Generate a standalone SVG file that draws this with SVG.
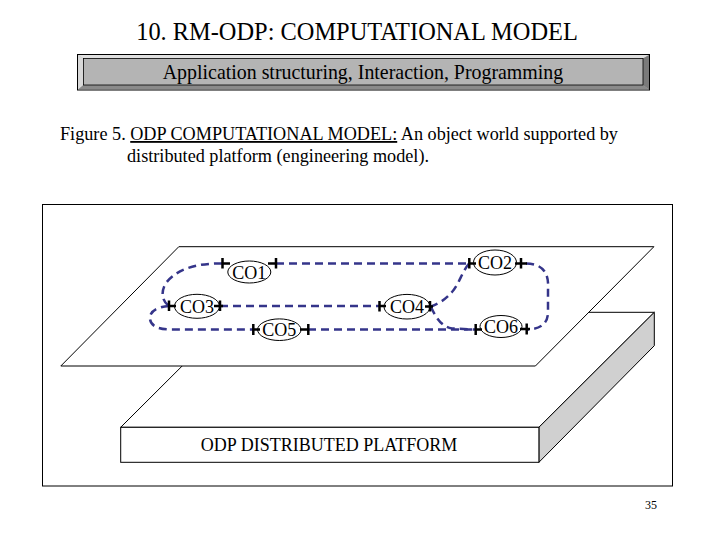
<svg xmlns="http://www.w3.org/2000/svg" width="720" height="540" viewBox="0 0 720 540">
<style>
.t{font-family:"Liberation Serif","Times New Roman",serif;fill:#000}
.ln{fill:none;stroke:#000;stroke-width:1}
.con{fill:none;stroke:#35358a;stroke-width:2.5;stroke-dasharray:8 5}
.node ellipse{fill:#fff;stroke:#000;stroke-width:1}
.node text{font-family:"Liberation Serif","Times New Roman",serif;font-size:18px;text-anchor:middle}
.tick{fill:none;stroke:#000;stroke-width:2.5}
</style>
<rect width="720" height="540" fill="#fff"/>
<g id="title">
<text class="t" x="357" y="40" font-size="24.4" text-anchor="middle">10. RM-ODP: COMPUTATIONAL MODEL</text>
</g>
<g id="banner">
<rect x="77.5" y="54.5" width="572" height="35.5" fill="#b4b4b4" stroke="#000" stroke-width="1"/>
<polygon points="78,55 649,55 643,58.5 83.5,58.5" fill="#e0e0e0"/>
<polygon points="78,55 83.5,58.5 83.5,85 78,89.5" fill="#d8d8d8"/>
<polygon points="649,55 649,89.5 643,85 643,58.5" fill="#7a7a7a"/>
<polygon points="78,89.5 83.5,85 643,85 649,89.5" fill="#8a8a8a"/>
<rect x="83.5" y="58.5" width="559.5" height="26.5" fill="#b4b4b4" stroke="#000" stroke-width="0.8"/>
<text class="t" x="363" y="79" font-size="19.9" text-anchor="middle">Application structuring, Interaction, Programming</text>
</g>
<g id="caption">
<text class="t" x="60" y="140" font-size="18.2">Figure 5. <tspan text-decoration="underline">ODP COMPUTATIONAL MODEL:</tspan> An object world supported by</text>
<text class="t" x="127" y="162" font-size="18.2">distributed platform (engineering model).</text>
</g>
<g id="frame">
<rect x="42.5" y="204.5" width="630" height="281.5" class="ln"/>
</g>
<g id="platform">
<polygon points="120.7,427.3 236,312.3 654.3,312.3 538.9,427.3" fill="#fff" stroke="#000" stroke-width="1"/>
<polygon points="538.9,427.3 654.3,312.3 654.3,345.7 538.9,462.3" fill="#d0d0d0" stroke="#000" stroke-width="1"/>
<rect x="120.7" y="427.3" width="418.2" height="35" fill="#fff" stroke="#000" stroke-width="1"/>
<text class="t" x="329" y="451" font-size="18" text-anchor="middle">ODP DISTRIBUTED PLATFORM</text>
</g>
<g id="plane">
<polygon points="178.8,246.7 653.9,246.7 535.4,366 60.8,366" fill="#fff" stroke="#000" stroke-width="1"/>
</g>
<g id="connectors">
<path class="con" d="M276,263.5 L469,263.5"/>
<path class="con" d="M220,306 L379,306"/>
<path class="con" d="M308,329.5 L475,329.5"/>
<path class="con" d="M222,263.5 C195,263 176,270 166,283 C161,291 161,300 169,306"/>
<path class="con" d="M169,306 C155,307 149,313 150,319 C151,327 160,329.5 172,329.5 L253,329.5"/>
<path class="con" d="M526,263.5 C545,264 549,275 548,290 L548,312 C548,324 540,329 528,329.5"/>
<path class="con" d="M469,263.5 C462,272 459,284 452,292 C446,299 440,303 431,306.5"/>
<path class="con" d="M431,307 C436,318 442,327 452,328.5 L475,329.5"/>
</g>
<g id="CO1" class="node">
<ellipse cx="249.3" cy="272" rx="21.5" ry="11"/>
<text x="249.3" y="278.5">CO1</text>
<path class="tick" d="M222.5,258 V268.5 M222.5,263.5 H230 M276,258 V268.5 M268,263.5 H276"/>
</g>
<g id="CO2" class="node">
<ellipse cx="495" cy="262.5" rx="21.5" ry="12.5"/>
<text x="495" y="268.5">CO2</text>
<path class="tick" d="M469.3,258 V268.5 M469.3,263.5 H476 M521,258 V268.5 M515,263.5 H527"/>
</g>
<g id="CO3" class="node">
<ellipse cx="197" cy="306.3" rx="22.5" ry="12"/>
<text x="197" y="312.5">CO3</text>
<path class="tick" d="M169,300.5 V311 M169,306 H176 M220,300.5 V311 M214,306 H223"/>
</g>
<g id="CO4" class="node">
<ellipse cx="407" cy="306.7" rx="23" ry="12.3"/>
<text x="407" y="313">CO4</text>
<path class="tick" d="M379.5,301 V311.5 M379.5,306 H386 M430,301 V311.5 M425,306.5 H433"/>
</g>
<g id="CO5" class="node">
<ellipse cx="279.3" cy="329.7" rx="21.7" ry="10.8"/>
<text x="279.3" y="336">CO5</text>
<path class="tick" d="M253.3,324 V335 M253.3,329.5 H260 M308.3,324 V335 M300,329.5 H308.3"/>
</g>
<g id="CO6" class="node">
<ellipse cx="501" cy="326.5" rx="21" ry="11"/>
<text x="501" y="333">CO6</text>
<path class="tick" d="M475.7,324 V335 M475.7,329.5 H482 M526.7,323.5 V334.5 M520,329 H530"/>
</g>
<g id="page">
<text class="t" x="651" y="509" font-size="12" text-anchor="middle">35</text>
</g>
</svg>
